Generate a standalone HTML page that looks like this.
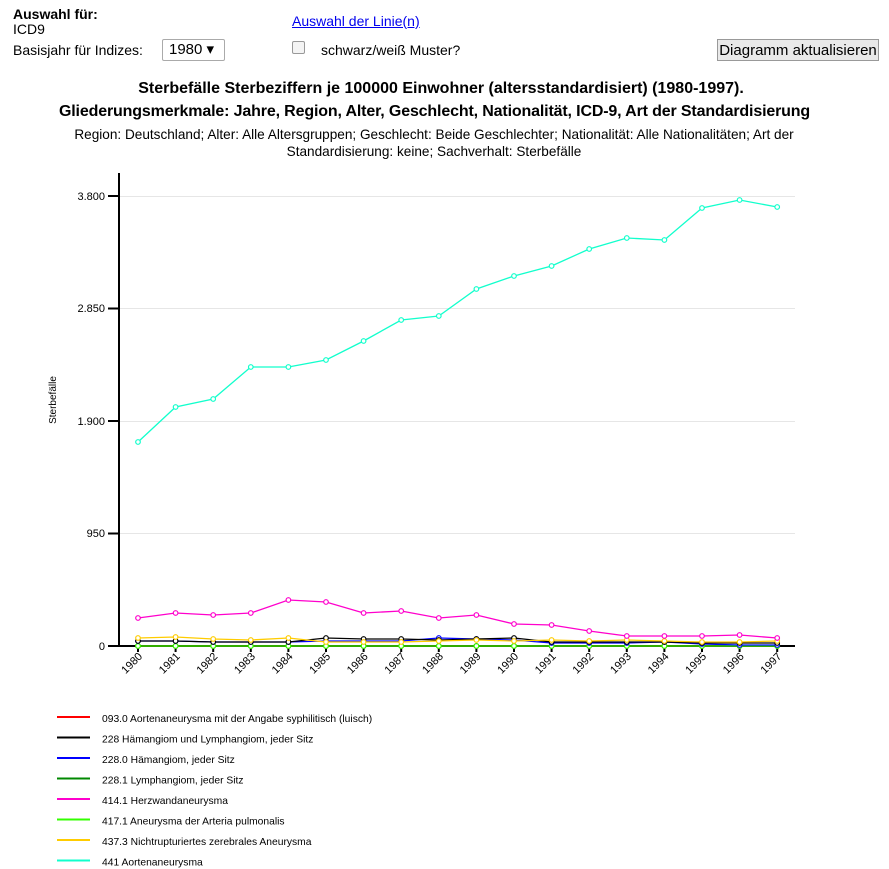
<!DOCTYPE html>
<html><head><meta charset="utf-8"><style>
body{margin:0;width:889px;height:869px;background:#fff;font-family:"Liberation Sans",sans-serif;position:relative;overflow:hidden}
.a{position:absolute;white-space:nowrap}
</style></head><body>
<div class="a" style="left:13px;top:6px;font-size:14px;font-weight:bold">Auswahl für:</div>
<div class="a" style="left:13px;top:21px;font-size:14px">ICD9</div>
<div class="a" style="left:292px;top:13px;font-size:14px;color:#00e;text-decoration:underline">Auswahl der Linie(n)</div>
<div class="a" style="left:13px;top:42px;font-size:14px">Basisjahr für Indizes:</div>
<div class="a" style="left:162px;top:39px;border:1px solid #aaa;border-radius:2px;font-size:15px;line-height:20px;padding-left:6px;box-sizing:border-box;width:63px;height:22px">1980 ▾</div>
<div class="a" style="left:292px;top:41px;width:11px;height:11px;border:1px solid #999;border-radius:2px;background:#f4f4f4"></div>
<div class="a" style="left:321px;top:42px;font-size:14px">schwarz/weiß Muster?</div>
<div class="a" style="left:717px;top:39px;width:162px;height:22px;border:1px solid #999;background:#e9e9e9;font-size:15px;line-height:21px;text-align:center;box-sizing:border-box">Diagramm aktualisieren</div>
<div class="a" style="left:0;width:882px;text-align:center;top:80px;font-size:16px;font-weight:bold">Sterbefälle Sterbeziffern je 100000 Einwohner (altersstandardisiert) (1980-1997).</div>
<div class="a" style="left:0;width:869px;text-align:center;top:103px;font-size:16px;font-weight:bold;letter-spacing:-0.15px">Gliederungsmerkmale: Jahre, Region, Alter, Geschlecht, Nationalität, ICD-9, Art der Standardisierung</div>
<div class="a" style="left:0;width:868px;text-align:center;top:126px;font-size:13.6px;line-height:17px;white-space:normal">Region: Deutschland; Alter: Alle Altersgruppen; Geschlecht: Beide Geschlechter; Nationalität: Alle Nationalitäten; Art der<br>Standardisierung: keine; Sachverhalt: Sterbefälle</div>
<svg class="a" style="left:0;top:0" width="889" height="869" font-family="Liberation Sans, sans-serif">
<g stroke="#e6e6e6" stroke-width="1">
<line x1="119" y1="196.5" x2="795" y2="196.5"/><line x1="119" y1="308.5" x2="795" y2="308.5"/><line x1="119" y1="421.5" x2="795" y2="421.5"/><line x1="119" y1="533.5" x2="795" y2="533.5"/>
</g>
<g stroke="#000" stroke-width="2">
<line x1="119" y1="173" x2="119" y2="647"/><line x1="118" y1="646" x2="795" y2="646"/>
<line x1="108" y1="196" x2="119" y2="196"/><line x1="108" y1="308.5" x2="119" y2="308.5"/><line x1="108" y1="421" x2="119" y2="421"/><line x1="108" y1="533.5" x2="119" y2="533.5"/><line x1="108" y1="646" x2="119" y2="646"/>
</g>
<g font-size="11" text-anchor="end">
<text x="105" y="200">3.800</text><text x="105" y="312">2.850</text><text x="105" y="425">1.900</text><text x="105" y="537">950</text><text x="105" y="650">0</text>
</g>
<text transform="translate(56,400) rotate(-90)" font-size="10" text-anchor="middle" fill="#000">Sterbefälle</text>
<g font-size="11" text-anchor="end" id="yl"></g>
<g id="series"></g>
<g font-size="10.3">
<line x1="57" y1="717" x2="90" y2="717" stroke="#f00" stroke-width="2"/><text x="102" y="722">093.0 Aortenaneurysma mit der Angabe syphilitisch (luisch)</text>
<line x1="57" y1="737.5" x2="90" y2="737.5" stroke="#000" stroke-width="2"/><text x="102" y="742.5">228 Hämangiom und Lymphangiom, jeder Sitz</text>
<line x1="57" y1="758" x2="90" y2="758" stroke="#00f" stroke-width="2"/><text x="102" y="763">228.0 Hämangiom, jeder Sitz</text>
<line x1="57" y1="778.5" x2="90" y2="778.5" stroke="#080" stroke-width="2"/><text x="102" y="783.5">228.1 Lymphangiom, jeder Sitz</text>
<line x1="57" y1="799" x2="90" y2="799" stroke="#f0c" stroke-width="2"/><text x="102" y="804">414.1 Herzwandaneurysma</text>
<line x1="57" y1="819.5" x2="90" y2="819.5" stroke="#3f0" stroke-width="2"/><text x="102" y="824.5">417.1 Aneurysma der Arteria pulmonalis</text>
<line x1="57" y1="840" x2="90" y2="840" stroke="#fc0" stroke-width="2"/><text x="102" y="845">437.3 Nichtrupturiertes zerebrales Aneurysma</text>
<line x1="57" y1="860.5" x2="90" y2="860.5" stroke="#1fc" stroke-width="2"/><text x="102" y="865.5">441 Aortenaneurysma</text>
</g>
</svg>
<script>
var NS="http://www.w3.org/2000/svg";
var xs=[];for(var i=0;i<18;i++)xs.push(138+37.6*i);
var S=[
["#f00",Array(18).fill(646)],
["#080",Array(18).fill(646)],
["#3f0",Array(18).fill(646)],
["#00f",[641,641,642,642,642,641,641,641,638,639,640,643,643,643,642,644,645,645]],
["#000",[641,641,642,642,642,638,639,639,640,639,638,642,642,642,642,643,643,643]],
["#fc0",[638,637,639,640,638,642,642,642,641,640,641,640,641,640,641,642,642,641]],
["#f0c",[618,613,615,613,600,602,613,611,618,615,624,625,631,636,636,636,635,638]],
["#1fc",[442,407,399,367,367,360,341,320,316,289,276,266,249,238,240,208,200,207]]];
var g=document.getElementById("series");
S.forEach(function(s){var p=document.createElementNS(NS,"polyline");
p.setAttribute("points",xs.map(function(x,i){return x+","+s[1][i]}).join(" "));
p.setAttribute("fill","none");p.setAttribute("stroke",s[0]);p.setAttribute("stroke-width","1.3");g.appendChild(p);
xs.forEach(function(x,i){var c=document.createElementNS(NS,"circle");c.setAttribute("cx",x);c.setAttribute("cy",s[1][i]);c.setAttribute("r","2.3");c.setAttribute("fill","#fff");c.setAttribute("stroke",s[0]);c.setAttribute("stroke-width","1.2");g.appendChild(c);});});
var yl=document.getElementById("yl");
xs.forEach(function(x,i){var t=document.createElementNS(NS,"text");t.setAttribute("transform","translate("+(x+5)+",657) rotate(-45)");t.textContent=1980+i;yl.appendChild(t);
var l=document.createElementNS(NS,"line");l.setAttribute("x1",x);l.setAttribute("x2",x);l.setAttribute("y1",646);l.setAttribute("y2",652);l.setAttribute("stroke","#000");l.setAttribute("stroke-width","2");yl.appendChild(l);});
</script>
</body></html>
